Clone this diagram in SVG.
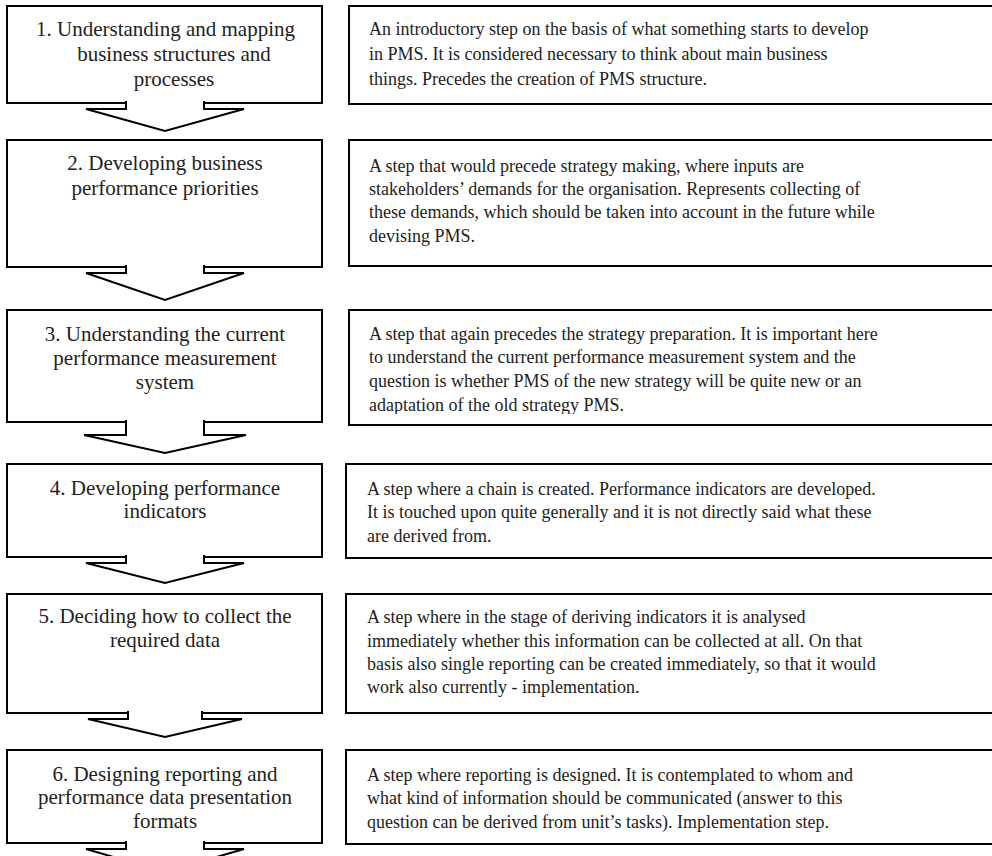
<svg xmlns="http://www.w3.org/2000/svg" width="992" height="856" viewBox="0 0 992 856">
  <style>
    .box { fill: #ffffff; stroke: #000000; stroke-width: 2; }
    .arrow { fill: #ffffff; stroke: #000000; stroke-width: 2; stroke-linejoin: miter; }
    text { font-family: 'Liberation Serif', 'DejaVu Serif', 'Times New Roman', Times, serif; fill: #222222; }
    .step { font-size: 21px; text-anchor: middle; }
    .note { font-size: 18px; }
  </style>
  <defs>
    <clipPath id="note3clip">
      <rect x="346" y="310" width="660" height="104"/>
    </clipPath>
  </defs>
  <rect width="992" height="856" fill="#ffffff"/>

  <!-- Left column: process steps -->
  <g id="step1">
    <rect class="box" x="7" y="6" width="315" height="97"/>
    <text class="step" x="165.5" y="36">1. Understanding and mapping</text>
    <text class="step" x="174" y="61">business structures and</text>
    <text class="step" x="174" y="86">processes</text>
  </g>
  <g id="step2">
    <rect class="box" x="7" y="140" width="315" height="127"/>
    <text class="step" x="165" y="170">2. Developing business</text>
    <text class="step" x="165" y="195">performance priorities</text>
  </g>
  <g id="step3">
    <rect class="box" x="7" y="310" width="315" height="112"/>
    <text class="step" x="165" y="341">3. Understanding the current</text>
    <text class="step" x="165" y="365">performance measurement</text>
    <text class="step" x="165" y="389">system</text>
  </g>
  <g id="step4">
    <rect class="box" x="7" y="464" width="315" height="93"/>
    <text class="step" x="165" y="495">4. Developing performance</text>
    <text class="step" x="165" y="518">indicators</text>
  </g>
  <g id="step5">
    <rect class="box" x="7" y="594" width="315" height="119"/>
    <text class="step" x="165" y="623">5. Deciding how to collect the</text>
    <text class="step" x="165" y="647">required data</text>
  </g>
  <g id="step6">
    <rect class="box" x="7" y="750" width="315" height="93"/>
    <text class="step" x="165" y="781">6. Designing reporting and</text>
    <text class="step" x="165" y="804">performance data presentation</text>
    <text class="step" x="165" y="828">formats</text>
  </g>

  <!-- Right column: descriptions -->
  <g id="note1">
    <rect class="box" x="349" y="6" width="660" height="98"/>
    <text class="note" x="369" y="35">An introductory step on the basis of what something starts to develop</text>
    <text class="note" x="369" y="60">in PMS. It is considered necessary to think about main business</text>
    <text class="note" x="369" y="85">things. Precedes the creation of PMS structure.</text>
  </g>
  <g id="note2">
    <rect class="box" x="349" y="140" width="660" height="126"/>
    <text class="note" x="369" y="172">A step that would precede strategy making, where inputs are</text>
    <text class="note" x="369" y="195">stakeholders’ demands for the organisation. Represents collecting of</text>
    <text class="note" x="369" y="218">these demands, which should be taken into account in the future while</text>
    <text class="note" x="369" y="242">devising PMS.</text>
  </g>
  <g id="note3">
    <rect class="box" x="349" y="310" width="660" height="115"/>
    <g clip-path="url(#note3clip)">
      <text class="note" x="369" y="340">A step that again precedes the strategy preparation. It is important here</text>
      <text class="note" x="369" y="363">to understand the current performance measurement system and the</text>
      <text class="note" x="369" y="387">question is whether PMS of the new strategy will be quite new or an</text>
      <text class="note" x="369" y="411">adaptation of the old strategy PMS.</text>
    </g>
  </g>
  <g id="note4">
    <rect class="box" x="346" y="464" width="660" height="94"/>
    <text class="note" x="367" y="495">A step where a chain is created. Performance indicators are developed.</text>
    <text class="note" x="367" y="518">It is touched upon quite generally and it is not directly said what these</text>
    <text class="note" x="367" y="542">are derived from.</text>
  </g>
  <g id="note5">
    <rect class="box" x="346" y="594" width="660" height="119"/>
    <text class="note" x="367" y="623">A step where in the stage of deriving indicators it is analysed</text>
    <text class="note" x="367" y="647">immediately whether this information can be collected at all. On that</text>
    <text class="note" x="367" y="670">basis also single reporting can be created immediately, so that it would</text>
    <text class="note" x="367" y="693">work also currently - implementation.</text>
  </g>
  <g id="note6">
    <rect class="box" x="346" y="750" width="660" height="94"/>
    <text class="note" x="367" y="781">A step where reporting is designed. It is contemplated to whom and</text>
    <text class="note" x="367" y="804">what kind of information should be communicated (answer to this</text>
    <text class="note" x="367" y="828">question can be derived from unit’s tasks). Implementation step.</text>
  </g>

  <!-- Block arrows between consecutive steps -->
  <g id="connectors">
    <path class="arrow" d="M126,101 V109 H86 L165,131 L244,109 H204 V101"/>
    <path class="arrow" d="M126,265 V273 H86 L165,300 L244,273 H204 V265"/>
    <path class="arrow" d="M126,420 V435 H84 L165,453 L246,435 H204 V420"/>
    <path class="arrow" d="M126,555 V563 H86 L165,583 L244,563 H204 V555"/>
    <path class="arrow" d="M128,711 V719 H88 L165,737 L242,719 H202 V711"/>
    <path class="arrow" d="M126,841 V849 H86 L165,872 L244,849 H204 V841"/>
  </g>
</svg>
